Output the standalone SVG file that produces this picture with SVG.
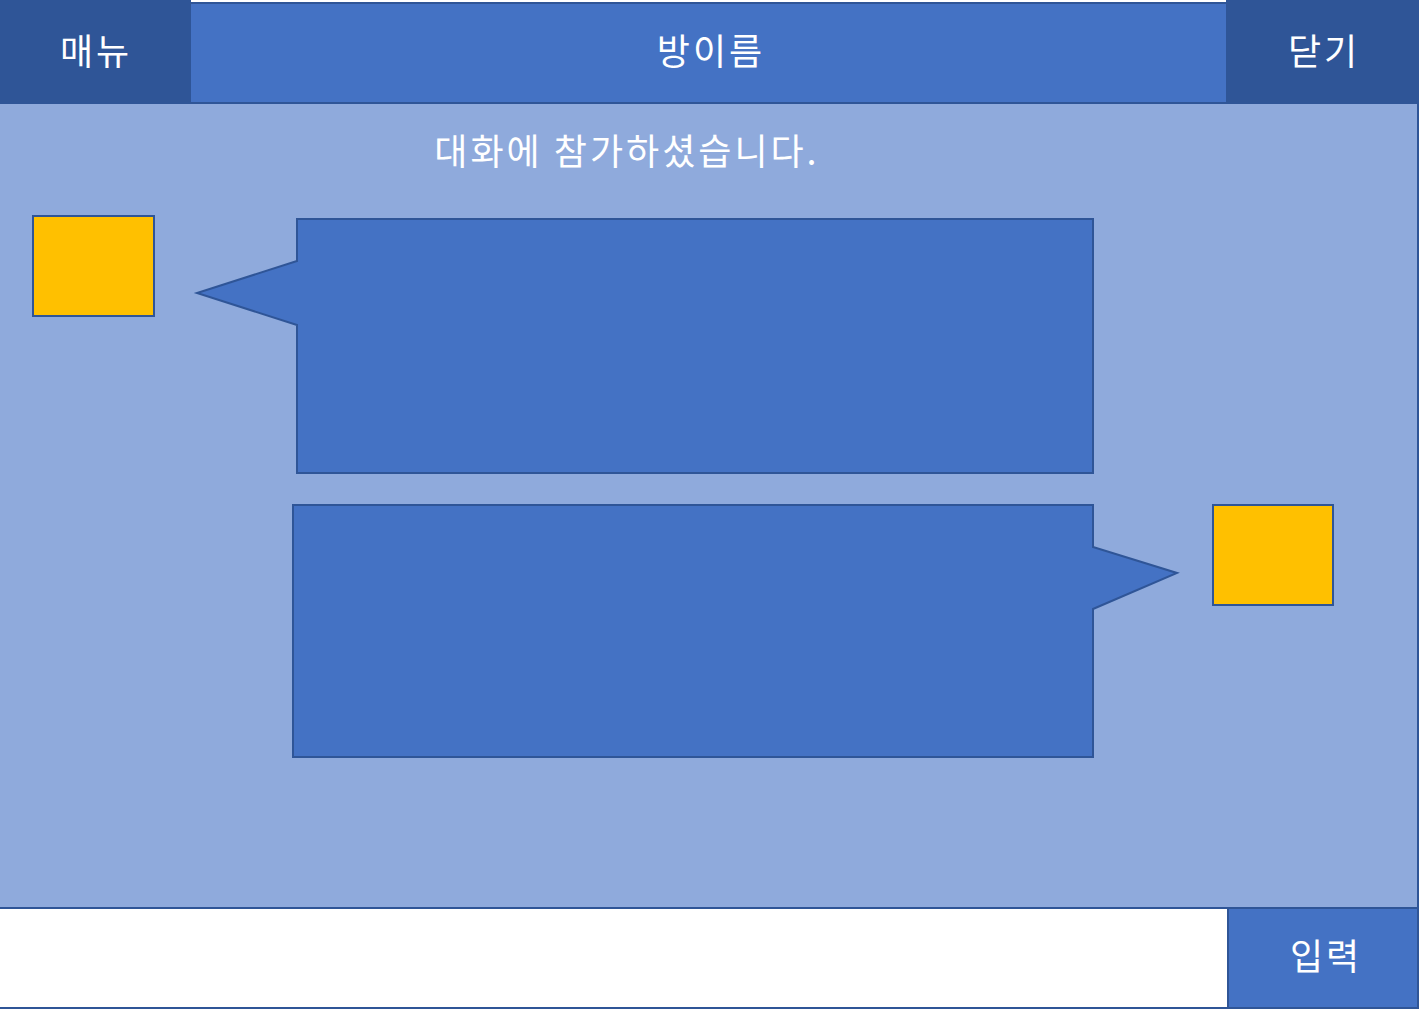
<svg xmlns="http://www.w3.org/2000/svg" width="1421" height="1013" viewBox="0 0 1421 1013">
<style>
.dark{fill:#2F5597;stroke:#2F5597;stroke-width:2}
.mid{fill:#4472C4;stroke:#2F5597;stroke-width:2}
.light{fill:#8FAADC;stroke:#2F5597;stroke-width:2}
.avatar{fill:#FFC000;stroke:#2F5597;stroke-width:2}
.bubble{fill:#4472C4;stroke:#2F5597;stroke-width:2;stroke-linejoin:miter}
.lbl{font-family:"Noto Sans CJK KR","Noto Sans",sans-serif;font-size:36px;fill:#FFFFFF;text-anchor:middle;letter-spacing:3px}
</style>
<rect x="0" y="0" width="1421" height="1013" fill="#FFFFFF"/>
<g id="chat-area"><rect class="light" x="-1" y="103" width="1419" height="805"/></g>
<g id="title"><rect class="mid" x="190" y="3" width="1037" height="100"/><text class="lbl" x="711" y="65">방이름</text></g>
<g id="menu"><rect class="dark" x="-1" y="-1" width="191" height="104"/><text class="lbl" x="96" y="65">매뉴</text></g>
<g id="close"><rect class="dark" x="1227" y="-1" width="191" height="104"/><text class="lbl" x="1324" y="65">닫기</text></g>
<g id="notice"><text class="lbl" x="627" y="165">대화에 참가하셨습니다.</text></g>
<g id="avatar-left"><rect class="avatar" x="33" y="216" width="121" height="100"/></g>
<g id="bubble-left"><path class="bubble" d="M297,219 H1093 V473 H297 V325 L197,293 L297,261 Z"/></g>
<g id="bubble-right"><path class="bubble" d="M293,505 H1093 V547 L1177,573 L1093,609 V757 H293 Z"/></g>
<g id="avatar-right"><rect class="avatar" x="1213" y="505" width="120" height="100"/></g>
<g id="input"><rect x="-1" y="908" width="1229" height="100" fill="#FFFFFF" stroke="#2F5597" stroke-width="2"/></g>
<g id="submit"><rect class="mid" x="1228" y="908" width="190" height="100"/><text class="lbl" x="1326" y="970">입력</text></g>
<g id="connectors"></g>
</svg>
